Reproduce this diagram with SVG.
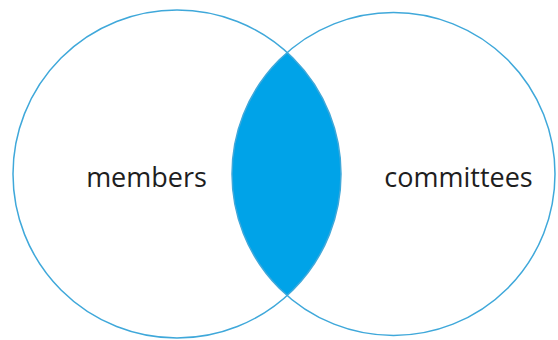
<svg xmlns="http://www.w3.org/2000/svg" width="558" height="340" viewBox="0 0 558 340">
<style>
.ring{fill:none;stroke:#3fa8da;stroke-width:1.5}
.lbl{font-family:"Open Sans","Liberation Sans",sans-serif;font-size:27px;fill:#1e1e1e;text-anchor:middle}
</style>
<rect width="558" height="340" fill="#ffffff"/>
<g id="intersection">
<path d="M287.1,52.5 A164,164 0 0 1 287.1,295.5 A161.5,161.5 0 0 1 287.1,52.5 Z" fill="#00a3e8"/>
</g>
<g id="members">
<circle class="ring" cx="177" cy="174" r="164"/>
<text class="lbl" x="146.5" y="187">members</text>
</g>
<g id="committees">
<circle class="ring" cx="393.5" cy="174" r="161.5"/>
<text class="lbl" x="458.5" y="187">committees</text>
</g>
<g id="connectors"/>
</svg>
